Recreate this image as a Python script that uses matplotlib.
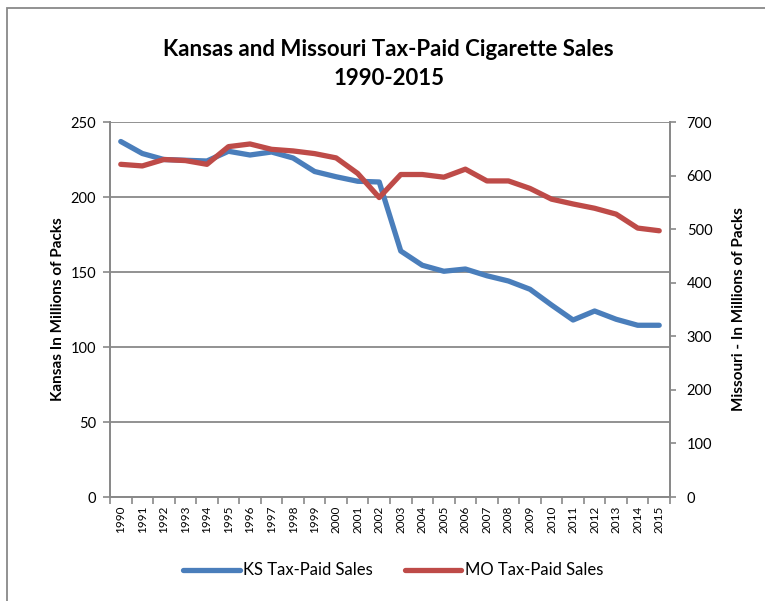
import matplotlib
matplotlib.use("Agg")
import matplotlib.pyplot as plt
from matplotlib.lines import Line2D
from matplotlib.patches import Rectangle

years = list(range(1990, 2016))
ks_sales = [237, 229, 225, 224.5, 224, 230.5, 228, 230, 226, 217, 213.5, 210.5, 210,
            164, 154.5, 150.5, 152, 147.5, 144, 138.5, 128, 118, 124, 118.5, 114.5, 114.5]
mo_sales = [621, 618, 630, 628, 621, 654, 659, 649, 646, 641, 633, 604, 559,
            602, 602, 597, 612, 590, 590, 576, 556, 547, 539, 528, 502, 497]

ks_color = "#4A7EBB"
mo_color = "#BE4B48"
grey = "#898989"

plt.rcParams['font.family'] = ['Lato', 'DejaVu Sans']

fig = plt.figure(figsize=(7.65, 6.01), dpi=100)
# grey frame around the chart (only left and top edges fall inside the image)
fig.patches.append(Rectangle((0.0085, -0.05), 1.1, 1.036, transform=fig.transFigure,
                             fill=False, edgecolor=grey, linewidth=1.3))

ax = fig.add_axes([0.1438, 0.173, 0.732, 0.624])
ax2 = ax.twinx()

ax.plot(years, ks_sales, color=ks_color, linewidth=3.8, solid_capstyle='round', zorder=3)
ax2.plot(years, mo_sales, color=mo_color, linewidth=3.8, solid_capstyle='round', zorder=3)

ax.set_xlim(1989.5, 2015.5)
ax.set_ylim(0, 250)
ax2.set_ylim(0, 700)
ax.set_yticks(range(0, 251, 50))
ax2.set_yticks(range(0, 701, 100))
ax.set_xticks(years)
ax.set_xticklabels([str(y) for y in years], rotation=90, fontsize=8.5)
ax.set_xticks([y - 0.5 for y in years] + [2015.5], minor=True)
ax.tick_params(axis='x', which='major', length=0, pad=6)
ax.tick_params(axis='x', which='minor', length=5, color=grey, width=1.2)
ax.tick_params(axis='y', length=5, color=grey, width=1.2, labelsize=10.5, pad=5)
ax2.tick_params(axis='y', length=4, color=grey, width=1.2, labelsize=10.5, pad=8)

ax.grid(axis='y', color=grey, linewidth=1.3)
ax.set_axisbelow(True)
for a in (ax, ax2):
    for side in ('left', 'right', 'bottom', 'top'):
        a.spines[side].set_color(grey)
        a.spines[side].set_linewidth(1.3)
    a.spines['top'].set_visible(False)

ax.set_ylabel("Kansas In Millions of Packs", fontsize=11, fontweight='bold', labelpad=4)
ax2.set_ylabel("Missouri - In Millions of Packs", fontsize=11, fontweight='bold', labelpad=14)

fig.text(0.508, 0.893, "Kansas and Missouri Tax-Paid Cigarette Sales\n1990-2015",
         ha='center', va='center', fontsize=16, fontweight='bold', linespacing=1.45)

handles = [Line2D([], [], color=ks_color, linewidth=3.8, solid_capstyle='round'),
           Line2D([], [], color=mo_color, linewidth=3.8, solid_capstyle='round')]
fig.legend(handles, ["KS Tax-Paid Sales", "MO Tax-Paid Sales"], loc='center',
           bbox_to_anchor=(0.514, 0.051), ncol=2, frameon=False, fontsize=12,
           handlelength=3.4, handletextpad=0.2, columnspacing=1.9)

fig.savefig("out.png", dpi=100)
